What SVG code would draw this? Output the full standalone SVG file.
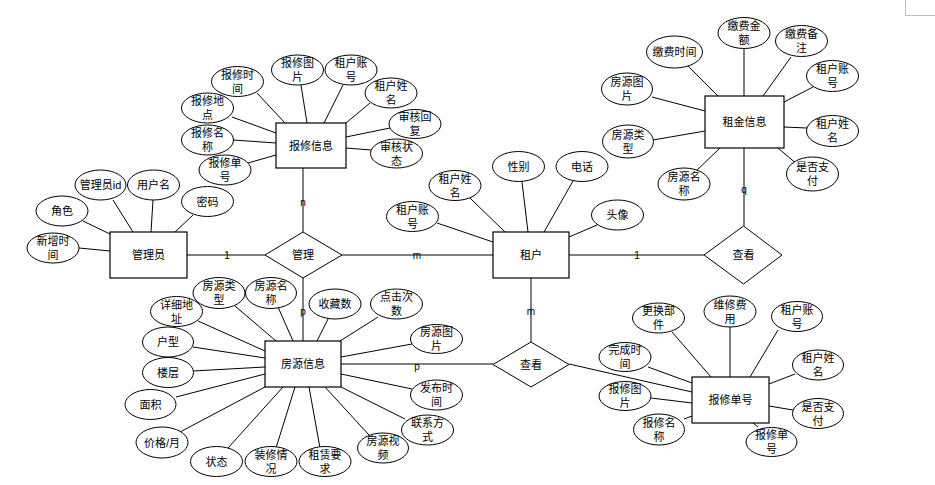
<svg xmlns="http://www.w3.org/2000/svg" width="935" height="485" viewBox="0 0 935 485">
<style>
.e{fill:#fff;stroke:#000;stroke-width:1}
.r{fill:#fff;stroke:#000;stroke-width:1.2}
.d{fill:#fff;stroke:#000;stroke-width:1}
.a{stroke:#000;stroke-width:1;fill:none}
.rel{stroke:#808080;stroke-width:2;fill:none}
text{font-family:"Liberation Sans","Noto Sans CJK SC",sans-serif;font-size:11px;fill:#000;text-anchor:middle;dominant-baseline:central}
.lb{font-size:10px}
</style>
<rect width="935" height="485" fill="#fff"/>
<path d="M905.5 0V15.5H935" fill="none" stroke="#bfbfbf" stroke-width="1"/>
<g id="connectors">
<!-- relationship lines -->
<line class="rel" x1="187" y1="255" x2="265" y2="255"/>
<line class="rel" x1="342" y1="255" x2="493" y2="255"/>
<line class="rel" x1="303" y1="168" x2="303" y2="232"/>
<line class="rel" x1="303" y1="278" x2="303" y2="341"/>
<line class="rel" x1="569" y1="255" x2="704" y2="255"/>
<line class="rel" x1="744" y1="148" x2="744" y2="226"/>
<line class="rel" x1="531" y1="278" x2="531" y2="342"/>
<line class="rel" x1="341" y1="364" x2="493" y2="364"/>
<line class="a" x1="569" y1="364" x2="692" y2="392"/>
<!-- 管理员 attrs -->
<line class="a" x1="83" y1="221" x2="110" y2="234"/>
<line class="a" x1="113" y1="200" x2="133" y2="232"/>
<line class="a" x1="153" y1="200" x2="151" y2="232"/>
<line class="a" x1="193" y1="215" x2="175" y2="232"/>
<line class="a" x1="79" y1="248" x2="110" y2="251"/>
<!-- 报修信息 attrs -->
<line class="a" x1="257" y1="93" x2="285" y2="123"/>
<line class="a" x1="301" y1="85" x2="307" y2="123"/>
<line class="a" x1="343" y1="85" x2="324" y2="123"/>
<line class="a" x1="370" y1="103" x2="346" y2="123"/>
<line class="a" x1="390" y1="128" x2="346" y2="137"/>
<line class="a" x1="371" y1="150" x2="346" y2="148"/>
<line class="a" x1="232" y1="117" x2="276" y2="133"/>
<line class="a" x1="233" y1="140" x2="276" y2="143"/>
<line class="a" x1="248" y1="163" x2="276" y2="155"/>
<!-- 租户 attrs -->
<line class="a" x1="522" y1="182" x2="528" y2="232"/>
<line class="a" x1="573" y1="181" x2="544" y2="232"/>
<line class="a" x1="470" y1="198" x2="505" y2="232"/>
<line class="a" x1="437" y1="223" x2="493" y2="242"/>
<line class="a" x1="597" y1="225" x2="569" y2="237"/>
<!-- 租金信息 attrs -->
<line class="a" x1="688" y1="66" x2="718" y2="96"/>
<line class="a" x1="744" y1="48" x2="744" y2="96"/>
<line class="a" x1="791" y1="57" x2="763" y2="96"/>
<line class="a" x1="813" y1="87" x2="784" y2="102"/>
<line class="a" x1="807" y1="128" x2="784" y2="127"/>
<line class="a" x1="798" y1="165" x2="778" y2="148"/>
<line class="a" x1="695" y1="172" x2="720" y2="148"/>
<line class="a" x1="652" y1="97" x2="705" y2="111"/>
<line class="a" x1="653" y1="140" x2="705" y2="131"/>
<!-- 房源信息 attrs -->
<line class="a" x1="235" y1="306" x2="276" y2="341"/>
<line class="a" x1="278" y1="307" x2="293" y2="341"/>
<line class="a" x1="328" y1="319" x2="317" y2="341"/>
<line class="a" x1="378" y1="317" x2="340" y2="341"/>
<line class="a" x1="412" y1="344" x2="341" y2="357"/>
<line class="a" x1="412" y1="389" x2="341" y2="374"/>
<line class="a" x1="405" y1="419" x2="341" y2="387"/>
<line class="a" x1="369" y1="435" x2="325" y2="387"/>
<line class="a" x1="320" y1="448" x2="309" y2="387"/>
<line class="a" x1="276" y1="448" x2="295" y2="387"/>
<line class="a" x1="228" y1="448" x2="283" y2="387"/>
<line class="a" x1="180" y1="432" x2="265" y2="387"/>
<line class="a" x1="176" y1="397" x2="265" y2="374"/>
<line class="a" x1="193" y1="371" x2="265" y2="367"/>
<line class="a" x1="193" y1="347" x2="265" y2="358"/>
<line class="a" x1="198" y1="321" x2="265" y2="351"/>
<!-- 报修单号 attrs -->
<line class="a" x1="672" y1="332" x2="711" y2="377"/>
<line class="a" x1="730" y1="327" x2="730" y2="377"/>
<line class="a" x1="778" y1="330" x2="750" y2="377"/>
<line class="a" x1="795" y1="374" x2="769" y2="384"/>
<line class="a" x1="793" y1="410" x2="769" y2="406"/>
<line class="a" x1="758" y1="427" x2="753" y2="423"/>
<line class="a" x1="684" y1="419" x2="692" y2="416"/>
<line class="a" x1="651" y1="398" x2="692" y2="403"/>
<line class="a" x1="648" y1="367" x2="692" y2="383"/>
<!-- cardinality labels -->
<text class="lb" x="227" y="255">1</text>
<text class="lb" x="303" y="202">n</text>
<text class="lb" x="417" y="255">m</text>
<text class="lb" x="303" y="311">p</text>
<text class="lb" x="637" y="255">1</text>
<text class="lb" x="744" y="189">q</text>
<text class="lb" x="531" y="311">m</text>
<text class="lb" x="417" y="366">p</text>
</g>

<!-- 管理员 -->
<g id="admin"><rect class="r" x="110" y="232" width="77" height="46"/><text x="148.5" y="255">管理员</text></g>
<g id="admin-role"><ellipse class="e" cx="62" cy="211" rx="26" ry="15"/><text x="62" y="211">角色</text></g>
<g id="admin-id"><ellipse class="e" cx="100.5" cy="185" rx="25.5" ry="15"/><text x="100.5" y="185">管理员id</text></g>
<g id="admin-user"><ellipse class="e" cx="153.5" cy="185" rx="26" ry="15"/><text x="153.5" y="185">用户名</text></g>
<g id="admin-pwd"><ellipse class="e" cx="207.5" cy="201.5" rx="26" ry="15"/><text x="207.5" y="201.5">密码</text></g>
<g id="admin-time"><ellipse class="e" cx="53" cy="248" rx="26" ry="15"/><text x="53" y="241">新增时</text><text x="53" y="255">间</text></g>

<!-- 管理 -->
<g id="manage"><polygon class="d" points="265,255 303,232 342,255 303,278"/><text x="303" y="255">管理</text></g>

<!-- 报修信息 -->
<g id="repair-info"><rect class="r" x="276" y="123" width="70" height="45"/><text x="311" y="145.5">报修信息</text></g>
<g id="ri-time"><ellipse class="e" cx="237.5" cy="81.5" rx="26" ry="15"/><text x="237.5" y="74.5">报修时</text><text x="237.5" y="88.5">间</text></g>
<g id="ri-pic"><ellipse class="e" cx="297.5" cy="70" rx="26" ry="15"/><text x="297.5" y="63">报修图</text><text x="297.5" y="77">片</text></g>
<g id="ri-acc"><ellipse class="e" cx="351" cy="70" rx="26" ry="15"/><text x="351" y="63">租户账</text><text x="351" y="77">号</text></g>
<g id="ri-name"><ellipse class="e" cx="391" cy="93" rx="26" ry="15"/><text x="391" y="86">租户姓</text><text x="391" y="100">名</text></g>
<g id="ri-reply"><ellipse class="e" cx="415" cy="124" rx="26" ry="14.5"/><text x="415" y="117">审核回</text><text x="415" y="131">复</text></g>
<g id="ri-status"><ellipse class="e" cx="396.5" cy="153.5" rx="26" ry="14.5"/><text x="396.5" y="146.5">审核状</text><text x="396.5" y="160.5">态</text></g>
<g id="ri-addr"><ellipse class="e" cx="207.5" cy="108" rx="26" ry="15"/><text x="207.5" y="101">报修地</text><text x="207.5" y="115">点</text></g>
<g id="ri-title"><ellipse class="e" cx="207.5" cy="140" rx="26" ry="15"/><text x="207.5" y="133">报修名</text><text x="207.5" y="147">称</text></g>
<g id="ri-no"><ellipse class="e" cx="225" cy="170" rx="26" ry="15"/><text x="225" y="163">报修单</text><text x="225" y="177">号</text></g>

<!-- 租户 -->
<g id="tenant"><rect class="r" x="493" y="232" width="76" height="46"/><text x="531" y="255">租户</text></g>
<g id="t-gender"><ellipse class="e" cx="518.5" cy="166.5" rx="26" ry="15"/><text x="518.5" y="166.5">性别</text></g>
<g id="t-phone"><ellipse class="e" cx="582" cy="166.5" rx="26" ry="15"/><text x="582" y="166.5">电话</text></g>
<g id="t-name"><ellipse class="e" cx="455" cy="185.5" rx="26" ry="15"/><text x="455" y="178.5">租户姓</text><text x="455" y="192.5">名</text></g>
<g id="t-acc"><ellipse class="e" cx="412.5" cy="216.5" rx="26" ry="15"/><text x="412.5" y="209.5">租户账</text><text x="412.5" y="223.5">号</text></g>
<g id="t-avatar"><ellipse class="e" cx="617.5" cy="215" rx="26" ry="15"/><text x="617.5" y="215">头像</text></g>

<!-- 查看 (租户-租金信息) -->
<g id="view1"><polygon class="d" points="704,255 743.5,226 782,255 743.5,284"/><text x="743.5" y="255">查看</text></g>

<!-- 租金信息 -->
<g id="rent-info"><rect class="r" x="705" y="96" width="79" height="52"/><text x="744.5" y="122">租金信息</text></g>
<g id="rn-time"><ellipse class="e" cx="674.5" cy="52" rx="28" ry="16"/><text x="674.5" y="52">缴费时间</text></g>
<g id="rn-amount"><ellipse class="e" cx="744" cy="33" rx="26" ry="15.5"/><text x="744" y="26">缴费金</text><text x="744" y="40">额</text></g>
<g id="rn-note"><ellipse class="e" cx="801.5" cy="41" rx="26" ry="15.5"/><text x="801.5" y="34">缴费备</text><text x="801.5" y="48">注</text></g>
<g id="rn-acc"><ellipse class="e" cx="832.5" cy="76" rx="26" ry="15.5"/><text x="832.5" y="69">租户账</text><text x="832.5" y="83">号</text></g>
<g id="rn-name"><ellipse class="e" cx="832.5" cy="131" rx="26" ry="15.5"/><text x="832.5" y="124">租户姓</text><text x="832.5" y="138">名</text></g>
<g id="rn-paid"><ellipse class="e" cx="812.5" cy="174" rx="26" ry="17"/><text x="812.5" y="167">是否支</text><text x="812.5" y="181">付</text></g>
<g id="rn-pic"><ellipse class="e" cx="627" cy="89" rx="25.5" ry="16"/><text x="627" y="82">房源图</text><text x="627" y="96">片</text></g>
<g id="rn-type"><ellipse class="e" cx="628" cy="141.5" rx="25.5" ry="16.5"/><text x="628" y="134.5">房源类</text><text x="628" y="148.5">型</text></g>
<g id="rn-hname"><ellipse class="e" cx="684" cy="184" rx="26" ry="16"/><text x="684" y="177">房源名</text><text x="684" y="191">称</text></g>

<!-- 房源信息 -->
<g id="house-info"><rect class="r" x="265" y="341" width="76" height="46"/><text x="303" y="364">房源信息</text></g>
<g id="h-type"><ellipse class="e" cx="219" cy="293" rx="26" ry="15.5"/><text x="219" y="286">房源类</text><text x="219" y="300">型</text></g>
<g id="h-name"><ellipse class="e" cx="271" cy="293" rx="25.5" ry="15.5"/><text x="271" y="286">房源名</text><text x="271" y="300">称</text></g>
<g id="h-fav"><ellipse class="e" cx="335" cy="304" rx="26" ry="15"/><text x="335" y="304">收藏数</text></g>
<g id="h-click"><ellipse class="e" cx="396.5" cy="304" rx="26" ry="15"/><text x="396.5" y="297">点击次</text><text x="396.5" y="311">数</text></g>
<g id="h-pic"><ellipse class="e" cx="436.5" cy="339" rx="26" ry="14.5"/><text x="436.5" y="332">房源图</text><text x="436.5" y="346">片</text></g>
<g id="h-pub"><ellipse class="e" cx="436.5" cy="395" rx="26" ry="15"/><text x="436.5" y="388">发布时</text><text x="436.5" y="402">间</text></g>
<g id="h-contact"><ellipse class="e" cx="427.5" cy="430" rx="26" ry="15"/><text x="427.5" y="423">联系方</text><text x="427.5" y="437">式</text></g>
<g id="h-video"><ellipse class="e" cx="383" cy="448" rx="25.5" ry="15"/><text x="383" y="441">房源视</text><text x="383" y="455">频</text></g>
<g id="h-req"><ellipse class="e" cx="325" cy="461.5" rx="26" ry="15"/><text x="325" y="454.5">租赁要</text><text x="325" y="468.5">求</text></g>
<g id="h-deco"><ellipse class="e" cx="271" cy="461.5" rx="26" ry="15"/><text x="271" y="454.5">装修情</text><text x="271" y="468.5">况</text></g>
<g id="h-state"><ellipse class="e" cx="216.5" cy="461.5" rx="26" ry="15"/><text x="216.5" y="461.5">状态</text></g>
<g id="h-price"><ellipse class="e" cx="162" cy="442.5" rx="26" ry="15.5"/><text x="162" y="442.5">价格/月</text></g>
<g id="h-area"><ellipse class="e" cx="150.5" cy="404.5" rx="25.5" ry="15"/><text x="150.5" y="404.5">面积</text></g>
<g id="h-floor"><ellipse class="e" cx="168" cy="372.5" rx="25.5" ry="15"/><text x="168" y="372.5">楼层</text></g>
<g id="h-layout"><ellipse class="e" cx="168" cy="342" rx="25.5" ry="15"/><text x="168" y="342">户型</text></g>
<g id="h-addr"><ellipse class="e" cx="176.5" cy="311.5" rx="26" ry="15"/><text x="176.5" y="304.5">详细地</text><text x="176.5" y="318.5">址</text></g>

<!-- 查看 (租户-报修单号) -->
<g id="view2"><polygon class="d" points="493,364.5 531,342 569,364.5 531,387"/><text x="531" y="364.5">查看</text></g>

<!-- 报修单号 -->
<g id="repair-order"><rect class="r" x="692" y="377" width="77" height="46"/><text x="730.5" y="400">报修单号</text></g>
<g id="ro-part"><ellipse class="e" cx="658.5" cy="318" rx="26" ry="15"/><text x="658.5" y="311">更换部</text><text x="658.5" y="325">件</text></g>
<g id="ro-fee"><ellipse class="e" cx="730" cy="311.5" rx="26" ry="15.5"/><text x="730" y="304.5">维修费</text><text x="730" y="318.5">用</text></g>
<g id="ro-acc"><ellipse class="e" cx="797" cy="316.5" rx="25.5" ry="15"/><text x="797" y="309.5">租户账</text><text x="797" y="323.5">号</text></g>
<g id="ro-name"><ellipse class="e" cx="818" cy="365" rx="25.5" ry="15"/><text x="818" y="358">租户姓</text><text x="818" y="372">名</text></g>
<g id="ro-paid"><ellipse class="e" cx="818" cy="413.5" rx="25.5" ry="15"/><text x="818" y="406.5">是否支</text><text x="818" y="420.5">付</text></g>
<g id="ro-no"><ellipse class="e" cx="771.5" cy="442" rx="25.5" ry="14.5"/><text x="771.5" y="435">报修单</text><text x="771.5" y="449">号</text></g>
<g id="ro-title"><ellipse class="e" cx="659" cy="429.5" rx="25.5" ry="15.5"/><text x="659" y="422.5">报修名</text><text x="659" y="436.5">称</text></g>
<g id="ro-pic"><ellipse class="e" cx="625" cy="396" rx="26" ry="14.5"/><text x="625" y="389">报修图</text><text x="625" y="403">片</text></g>
<g id="ro-done"><ellipse class="e" cx="625" cy="357" rx="26" ry="14.5"/><text x="625" y="350">完成时</text><text x="625" y="364">间</text></g>
</svg>
